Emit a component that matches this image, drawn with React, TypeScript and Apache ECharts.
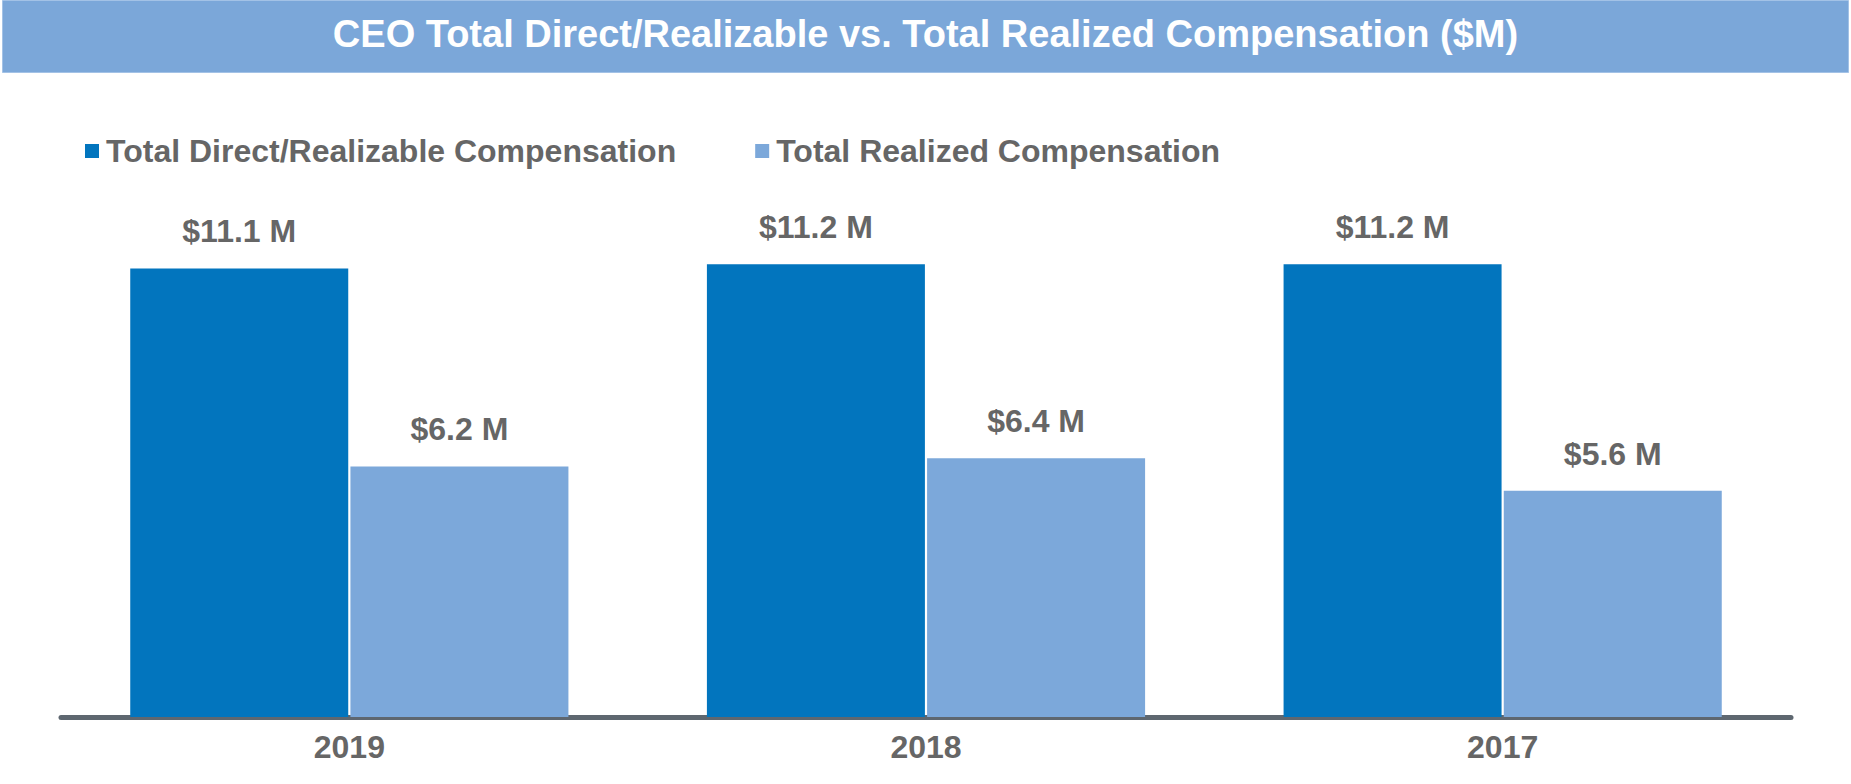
import React, { useEffect, useRef } from "react";
import * as echarts from "echarts";

const categories = ["2019", "2018", "2017"];
const seriesNames = ["Total Direct/Realizable Compensation", "Total Realized Compensation"];
const realizableValues = [11.1, 11.2, 11.2];
const realizedValues = [6.2, 6.4, 5.6];
const chartTitle = "CEO Total Direct/Realizable vs. Total Realized Compensation ($M)";

const FONT = "'Liberation Sans', Arial, Helvetica, sans-serif";
const DARK = "#0275BE";
const LIGHT = "#7CA8DA";
const GRAY = "#666666";

export default function App() {
  const ref = useRef<HTMLDivElement>(null);
  useEffect(() => {
    if (!ref.current) return;
    const chart = echarts.init(ref.current, undefined, { renderer: "svg" });
    const label = {
      show: true,
      position: "top",
      distance: 21,
      fontSize: 32,
      fontWeight: "bold",
      fontFamily: FONT,
      color: GRAY,
      formatter: (p: any) => `$${Number(p.value).toFixed(1)} M`,
    };
    chart.setOption({
      animation: false,
      backgroundColor: "#ffffff",
      textStyle: { fontFamily: FONT },
      graphic: [
        {
          type: "rect",
          z: -1,
          shape: { x: 2.5, y: 0.5, width: 1846, height: 72 },
          style: { fill: "#7BA7D9", stroke: "#A3C2E6", lineWidth: 1 },
        },
      ],
      title: {
        text: chartTitle,
        left: "center",
        top: 14,
        padding: 0,
        textStyle: {
          color: "#ffffff",
          fontSize: 38,
          fontWeight: "bold",
          fontFamily: FONT,
          lineHeight: 40,
        },
      },
      legend: {
        left: 85,
        top: 133,
        padding: 0,
        itemWidth: 14,
        itemHeight: 14,
        itemGap: 79,
        icon: "rect",
        data: seriesNames,
        textStyle: {
          fontSize: 32,
          fontWeight: "bold",
          color: GRAY,
          fontFamily: FONT,
          lineHeight: 36,
          padding: [0, 0, 0, 2],
        },
      },
      grid: { left: 61, right: 60, top: 232, bottom: 67 },
      xAxis: {
        type: "category",
        data: categories,
        offset: 3,
        axisLine: { show: true, lineStyle: { color: "#5E6770", width: 5 } },
        axisTick: { show: false },
        axisLabel: {
          margin: 11,
          fontSize: 32,
          fontWeight: "bold",
          color: GRAY,
          fontFamily: FONT,
        },
      },
      yAxis: {
        type: "value",
        min: 0,
        max: 12,
        show: false,
        splitLine: { show: false },
      },
      series: [
        {
          name: seriesNames[0],
          type: "bar",
          data: realizableValues,
          barWidth: 218,
          barGap: "1%",
          itemStyle: { color: DARK },
          label,
        },
        {
          name: seriesNames[1],
          type: "bar",
          data: realizedValues,
          barWidth: 218,
          barGap: "1%",
          itemStyle: { color: LIGHT },
          label,
        },
      ],
    });
    return () => chart.dispose();
  }, []);
  return (
    <div
      ref={ref}
      style={{ position: "fixed", left: 0, top: 0, width: 1851, height: 784 }}
    />
  );
}
